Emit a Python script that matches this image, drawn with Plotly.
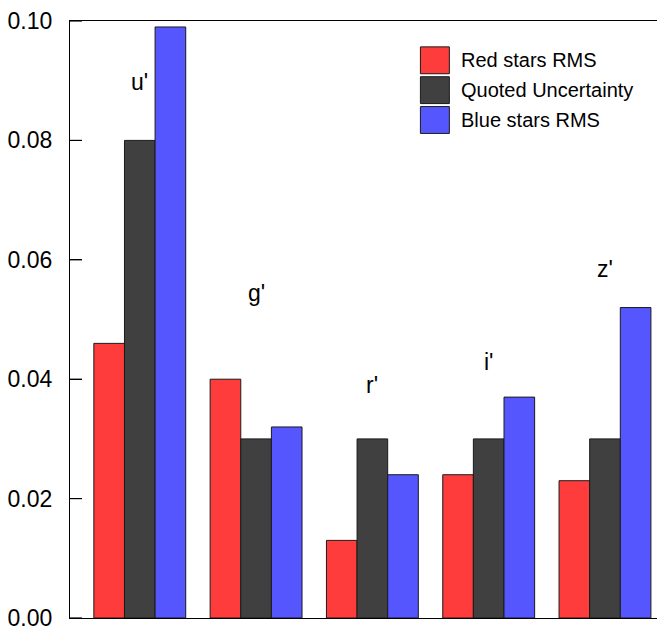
import plotly.graph_objects as go

bands = ["u'", "g'", "r'", "i'", "z'"]
red_rms = [0.046, 0.040, 0.013, 0.024, 0.023]
quoted = [0.080, 0.030, 0.030, 0.030, 0.030]
blue_rms = [0.099, 0.032, 0.024, 0.037, 0.052]
label_heights = [0.0898, 0.0545, 0.0390, 0.0428, 0.0585]
y_ticks = [0.00, 0.02, 0.04, 0.06, 0.08, 0.10]
y_tick_text = ["0.00", "0.02", "0.04", "0.06", "0.08", "0.10"]

series = [
    ("Red stars RMS", red_rms, "#FF3C3C"),
    ("Quoted Uncertainty", quoted, "#404040"),
    ("Blue stars RMS", blue_rms, "#5656FF"),
]

FONT = "Liberation Sans, Arial, sans-serif"
xs = list(range(len(bands)))
Y_MAX = 0.10

fig = go.Figure()
for name, vals, col in series:
    fig.add_trace(go.Bar(
        x=xs, y=vals, name=name,
        marker=dict(color=col, line=dict(color="#1a1a1a", width=1)),
        showlegend=False,
    ))

for i, (b, h) in enumerate(zip(bands, label_heights)):
    fig.add_annotation(x=i, y=h, text=b, showarrow=False,
                       font=dict(family=FONT, size=23, color="black"))

# manual legend (page pixel coords; page has an 8px body offset)
OFF = 8
legend_top = 45
row_step = 30
x0_px, box_w, box_h = 420, 29, 27
plot_l, plot_w, plot_t, plot_h = 69, 596, 19, 600
for k, (name, vals, col) in enumerate(series):
    top = legend_top + k * row_step
    fig.add_shape(type="rect", xref="paper", yref="paper",
                  x0=(x0_px - plot_l) / plot_w, x1=(x0_px + box_w - plot_l) / plot_w,
                  y0=1 - (top + box_h - plot_t) / plot_h, y1=1 - (top - plot_t) / plot_h,
                  fillcolor=col, line=dict(color="#1a1a1a", width=1))
    fig.add_annotation(xref="paper", yref="paper",
                       x=(459 - plot_l) / plot_w, y=1 - (top + box_h / 2 - plot_t) / plot_h,
                       xanchor="left", yanchor="middle", text=name, showarrow=False,
                       font=dict(family=FONT, size=20, color="black"))

# inward tick marks on left and right edges (paper coords from tick values)
for t in y_ticks:
    yp = t / Y_MAX
    fig.add_shape(type="rect", xref="paper", yref="paper",
                  x0=0, x1=12 / plot_w, y0=yp - 0.6 / plot_h, y1=yp + 0.6 / plot_h,
                  fillcolor="black", line=dict(width=0), layer="above")
    fig.add_shape(type="rect", xref="paper", yref="paper",
                  x0=1 - 8 / plot_w, x1=1, y0=yp - 0.6 / plot_h, y1=yp + 0.6 / plot_h,
                  fillcolor="black", line=dict(width=0), layer="above")

fig.update_layout(
    width=665 - OFF, height=631 - OFF,
    margin=dict(l=plot_l - OFF, r=0, t=plot_t - OFF, b=12),
    plot_bgcolor="white", paper_bgcolor="white",
    barmode="group", bargap=0.21, bargroupgap=0,
    font=dict(family=FONT, size=23, color="black"),
    xaxis=dict(range=[-0.6, 4.516], showticklabels=False, ticks="",
               showline=True, linecolor="black", linewidth=1.2, mirror=True,
               showgrid=False, zeroline=False, fixedrange=True),
    yaxis=dict(range=[0, Y_MAX], tickvals=y_ticks, ticktext=y_tick_text,
               tickmode="array", ticks="inside", ticklen=12, tickwidth=1.2,
               tickcolor="black",
               showline=True, linecolor="black", linewidth=1.2,
               showgrid=False, zeroline=False, ticklabelstandoff=12,
               ticklabeloverflow="allow",
               tickfont=dict(family=FONT, size=23, color="black")),
)

fig.write_html("out.html")
